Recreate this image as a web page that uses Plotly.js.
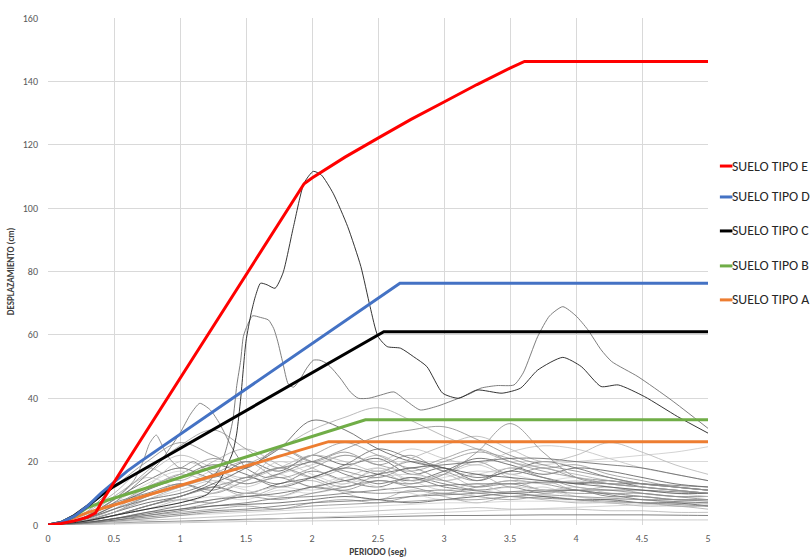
<!DOCTYPE html>
<html>
<head>
<meta charset="utf-8">
<script src="https://cdn.plot.ly/plotly-3.0.1.min.js"></script>
<style>html,body{margin:0;padding:0;background:#fff;}#chart{width:812px;height:558px;}</style>
</head>
<body>
<div id="chart"></div>
<script>
// ---- Design displacement spectra (x = period in s, y = displacement in cm)
const T_E = [0, 0.1, 0.2, 0.3, 0.36, 0.4, 0.6, 1.0, 1.5, 1.94, 2.0, 2.25, 2.5, 2.75, 3.0, 3.25, 3.5, 3.61, 5];
const SD_E = [0, 0.5, 1.3, 2.5, 3.8, 6.8, 20.1, 46.2, 78.9, 107.7, 109.5, 116.1, 122.1, 128.0, 133.5, 139.0, 144.2, 146.3, 146.3];
const T_D = [0, 0.1, 0.2, 0.3, 0.4, 0.5, 0.6, 0.7, 1.0, 2.0, 2.666, 5];
const SD_D = [0, 0.8, 2.8, 6.0, 10.0, 13.6, 17.0, 20.0, 28.6, 57.2, 76.3, 76.3];
const T_C = [0, 0.1, 0.2, 0.3, 0.4, 0.5, 0.6, 1.0, 2.0, 2.544, 5];
const SD_C = [0, 0.8, 3.0, 6.0, 9.3, 12.2, 14.6, 24.1, 47.9, 61.0, 61.0];
const T_B = [0, 0.1, 0.2, 0.3, 0.45, 1.0, 2.405, 5];
const SD_B = [0, 0.8, 2.8, 5.5, 7.8, 15.0, 33.2, 33.2];
const T_A = [0, 0.1, 0.2, 0.3, 0.5, 1.0, 2.126, 5];
const SD_A = [0, 0.7, 2.3, 3.9, 6.3, 12.5, 26.3, 26.3];
const SPECTRA_NAMES = ["SUELO TIPO A", "SUELO TIPO B", "SUELO TIPO C", "SUELO TIPO D", "SUELO TIPO E"];

// ---- Prominent record spectra
const T_P1 = [0,0.25,0.5,0.75,1.0,1.2,1.3,1.36,1.4,1.43,1.46,1.5,1.54,1.57,1.61,1.66,1.72,1.78,1.86,1.94,2.01,2.07,2.16,2.27,2.37,2.44,2.5,2.57,2.67,2.77,2.87,2.99,3.11,3.25,3.44,3.58,3.71,3.9,4.04,4.19,4.32,4.52,4.77,5.0];
const SD_P1 = [0,1,3,5,7,9.5,14,19,23,29,40,58,67,72,76.3,75.8,74.7,79.5,94.2,107.9,111.6,110.5,104.7,94.2,81.6,68.9,59.5,56.3,55.8,53.1,50,41.6,40,42.6,41.6,43.2,48.9,52.9,50,43.7,44.2,40.5,34.2,29];
const T_P2 = [0,0.25,0.5,0.75,1.0,1.2,1.3,1.35,1.4,1.43,1.46,1.48,1.51,1.55,1.61,1.67,1.71,1.74,1.78,1.82,1.86,1.91,1.96,2.01,2.06,2.11,2.16,2.22,2.29,2.35,2.43,2.52,2.62,2.72,2.82,2.95,3.08,3.2,3.28,3.4,3.53,3.6,3.71,3.8,3.9,4.0,4.09,4.19,4.27,4.47,4.72,5.0];
const SD_P2 = [0,1.5,5,8,10,13,18,24,33,44,52,59.5,63,66,65.5,64.7,62,58,51,44.5,43.5,46,49.5,52,52,51,49,46,42,40,40,41,42,39,36.3,37.5,39.5,41.5,43.2,44,44.2,48,59.5,66,68.9,66,61.6,55.3,51.6,46.8,39.5,30.5];
const T_P3 = [0,0.25,0.5,0.7,0.85,1.0,1.08,1.15,1.23,1.3,1.4,1.5,1.65,1.8,2.0,2.25,2.5,2.75,3,3.5,4,4.5,5];
const SD_P3 = [0,2,7,14,20,29,35,38.4,36.3,32,24,18,15,17,20,16,13,15,12,10,11,8,7];
const T_P4 = [0,0.25,0.5,0.65,0.72,0.77,0.82,0.87,0.92,1.0,1.1,1.25,1.5,1.75,2,2.5,3,3.5,4,4.5,5];
const SD_P4 = [0,2,8,14,20,25.8,28.4,24.7,21,18,20,16,13,15,12,10,11,9,8,7,6];

// ---- Background record spectra (common period grid)
const T_GRID = [0,0.25,0.5,0.75,1,1.25,1.5,1.75,2,2.25,2.5,2.75,3,3.25,3.5,3.75,4,4.25,4.5,4.75,5];
const REC_01 = [0,2,8,14,18,15,20,17,22,19,21,16,18,14,17,15,13,14,12,11,10];
const REC_02 = [0,1.5,6,12,16,21,18,24,20,23,19,22,17,20,16,18,15,14,13,12,11];
const REC_03 = [0,3,10,18,14,20,24,19,15,18,22,17,14,16,12,14,11,12,10,9,9];
const REC_04 = [0,1,4,8,11,14,12,16,19,22,20,24,21,19,23,25,24,21,18,16,14];
const REC_05 = [0,2,7,10,13,11,15,13,17,14,12,15,13,11,12,10,11,9,9,8,8];
const REC_06 = [0,1,3,5,7,9,8,11,10,12,14,13,15,17,16,14,15,13,12,11,10];
const REC_07 = [0,0.5,2,3,4,5,6,5,7,8,7,9,10,9,8,9,8,7,7,6,6];
const REC_08 = [0,0.3,1,1.5,2,2.5,3,3.5,4,4,4.5,5,5,5.5,5,5,5,4.5,4.5,4,4];
const REC_09 = [0,0.2,0.6,1,1.2,1.5,1.8,2,2.2,2.4,2.6,2.8,3,3,3.1,3.2,3.2,3.2,3.2,3.1,3];
const REC_10 = [0,2.5,9,15,12,17,14,20,16,13,18,14,11,13,10,12,9,8,8,7,7];
const REC_11 = [0,1.5,5,9,13,10,14,18,15,12,16,20,17,14,18,15,12,11,10,9,8];
const REC_12 = [0,1,4,7,9,12,10,13,15,18,16,14,17,21,19,16,18,17,15,13,12];
const REC_13 = [0,0.8,3,6,8,7,10,9,12,11,14,12,10,12,14,13,11,10,10,9,9];
const REC_14 = [0,1.2,5,11,16,13,9,12,14,10,8,11,9,7,9,8,7,7,6,6,5];
const REC_15 = [0,2,6,12,20,17,13,16,12,15,18,14,16,19,15,13,14,12,11,10,9];
const REC_16 = [0,0.5,1.5,2.5,3.5,4.5,5,6,7,7.5,8,9,9.5,10,10.5,11,11,11,11,10.5,10];
const REC_17 = [0,0.3,1,2,3,3.5,4,4.5,5,5.5,6,6.5,7,7,7.5,7.5,7.5,7,7,7,6.5];
const REC_18 = [0,1,4,9,12,16,20,15,18,22,19,17,20,23,21,18,19,16,14,12,11];
const REC_19 = [0,2,9,16,22,18,15,22,18,14,17,13,16,12,14,11,12,10,9,8,8];
const REC_20 = [0,1.5,6,11,15,19,16,12,15,19,24,21,18,15,17,20,18,15,13,12,11];
const REC_21 = [0,0.8,3,5,6,8,10,12,11,13,15,16,14,16,18,19,20,21,22,23,24.7];
const REC_22 = [0,3,12,20,26,22,18,24,20,17,15,18,14,12,13,11,10,10,9,8,8];
const REC_23 = [0,1,3,6,9,13,18,24,33,30,24,20,18,16,15,14,13,12,11,10,10];
const REC_24 = [0,0.5,2,4,5,7,9,8,10,12,14,13,16,23,32,23,15,13,12,11,10];
const REC_25 = [0,1,4,8,12,15,19,24,30,34,37,33,28,24,20,18,16,14,13,12,11];
const REC_26 = [0,0.1,0.3,0.5,0.7,0.9,1.1,1.2,1.3,1.4,1.5,1.6,1.6,1.7,1.7,1.7,1.7,1.7,1.6,1.6,1.6];
const REC_27 = [0,0.4,1.5,3,4.5,6,7,8.5,9,10,11,12,12.5,13,13,13.5,13.5,13,13,12.5,12];
const REC_28 = [0,1.8,7,13,17,14,11,9,12,15,12,10,8,10,12,11,9,8,8,7,7];
const REC_29 = [0,2,8,17,25,30,24,18,22,26,22,18,21,24,20,17,15,13,12,11,10];
const REC_30 = [0,1,3,5,8,10,14,18,22,20,17,21,25,28,24,20,22,26,23,19,16];
const REC_31 = [0,0.6,2,4,6,8,9,10,12,14,16,18,19,20,21,21,20,19,18,16,14];
const REC_32 = [0,0.2,0.5,0.8,1,1.3,1.6,2,2.4,2.8,3.2,3.6,4,4.4,4.8,5.2,5.6,6,6.4,6.8,7];
const REC_33 = [0,1,3,6,9,12,15,18,20,24,28,30,31,27,22,19,17,15,13,12,11];
const REC_34 = [0,0.6,2,3.5,5,6,6.5,7,8,9,8,7,8,9,10,9,8,8,7,7,6];
const REC_35 = [0,0.4,1.2,2,3,4,4.5,5,6,6.5,7,7.5,8,8,9,9.5,9,8.5,8,8,7.5];

const X_TICKS = [0,0.5,1,1.5,2,2.5,3,3.5,4,4.5,5];
const X_TICK_LABELS = ["0","0.5","1","1.5","2","2.5","3","3.5","4","4.5","5"];
const Y_TICKS = [0,20,40,60,80,100,120,140,160];

const BG_RECORDS = [REC_01,REC_02,REC_03,REC_04,REC_05,REC_06,REC_07,REC_08,REC_09,REC_10,
  REC_11,REC_12,REC_13,REC_14,REC_15,REC_16,REC_17,REC_18,REC_19,REC_20,
  REC_21,REC_22,REC_23,REC_24,REC_25,REC_26,REC_27,REC_28,REC_29,REC_30,
  REC_31,REC_32,REC_33,REC_34,REC_35];
const GRAYS = ['#555555','#8a8a8a','#a8a8a8','#c0c0c0','#6e6e6e','#cfcfcf','#949494','#b4b4b4','#626262','#c8c8c8','#888888'];

const traces = [];
BG_RECORDS.forEach((rec, i) => {
  traces.push({x: T_GRID, y: rec, type: 'scatter', mode: 'lines', showlegend: false, hoverinfo: 'skip',
    line: {color: GRAYS[i % GRAYS.length], width: 0.8, shape: 'spline', smoothing: 1}});
});
[[T_P4, SD_P4, '#8a8a8a'], [T_P3, SD_P3, '#7a7a7a'], [T_P2, SD_P2, '#707070'], [T_P1, SD_P1, '#1e1e1e']].forEach(p => {
  traces.push({x: p[0], y: p[1], type: 'scatter', mode: 'lines', showlegend: false, hoverinfo: 'skip',
    line: {color: p[2], width: 0.9, shape: 'spline', smoothing: 0.6}});
});

const SPECTRA = [[T_A, SD_A, '#ED7D31'], [T_B, SD_B, '#70AD47'], [T_C, SD_C, '#000000'], [T_D, SD_D, '#4472C4'], [T_E, SD_E, '#FF0000']];
SPECTRA.forEach((s, i) => {
  traces.push({x: s[0], y: s[1], type: 'scatter', mode: 'lines', name: SPECTRA_NAMES[i], showlegend: false,
    line: {color: s[2], width: 3}});
});

// manual legend (E at top ... A at bottom)
const FONT = 'Carlito, Lato, "Open Sans", sans-serif';
const LEG_Y = [0.444, 0.511, 0.580, 0.647, 0.708];
const shapes = [];
const annotations = [];
SPECTRA.forEach((s, i) => {
  shapes.push({type: 'line', xref: 'paper', yref: 'paper', x0: 1.018, x1: 1.037, y0: LEG_Y[i], y1: LEG_Y[i],
    line: {color: s[2], width: 3}});
  annotations.push({xref: 'paper', yref: 'paper', x: 1.034, y: LEG_Y[i], xanchor: 'left', yanchor: 'middle',
    text: SPECTRA_NAMES[i], showarrow: false, font: {family: FONT, size: 13.8, color: '#262626'}});
});

const layout = {
  width: 812, height: 558,
  margin: {l: 48, r: 104, t: 18, b: 33},
  paper_bgcolor: '#ffffff', plot_bgcolor: '#ffffff',
  showlegend: false,
  font: {family: FONT, color: '#595959'},
  xaxis: {
    range: [0, 5], tickvals: X_TICKS, ticktext: X_TICK_LABELS,
    showgrid: true, gridcolor: '#d9d9d9', gridwidth: 1, zeroline: false,
    showline: false, ticks: '', ticklabelstandoff: 6,
    tickfont: {family: FONT, size: 10, color: '#595959'},
    title: {text: '<b>PERIODO (seg)</b>', font: {family: FONT, size: 9.5, color: '#404040'}, standoff: 4}
  },
  yaxis: {
    range: [0, 160], tickvals: Y_TICKS,
    showgrid: true, gridcolor: '#d9d9d9', gridwidth: 1, zeroline: false,
    showline: false, ticks: '', ticklabelstandoff: 9,
    tickfont: {family: FONT, size: 10, color: '#595959'},
    title: {text: '<b>DESPLAZAMIENTO (cm)</b>', font: {family: FONT, size: 9, color: '#404040'}, standoff: 6}
  },
  shapes: shapes,
  annotations: annotations
};

Plotly.newPlot('chart', traces, layout, {displayModeBar: false, staticPlot: true});
</script>
</body>
</html>
